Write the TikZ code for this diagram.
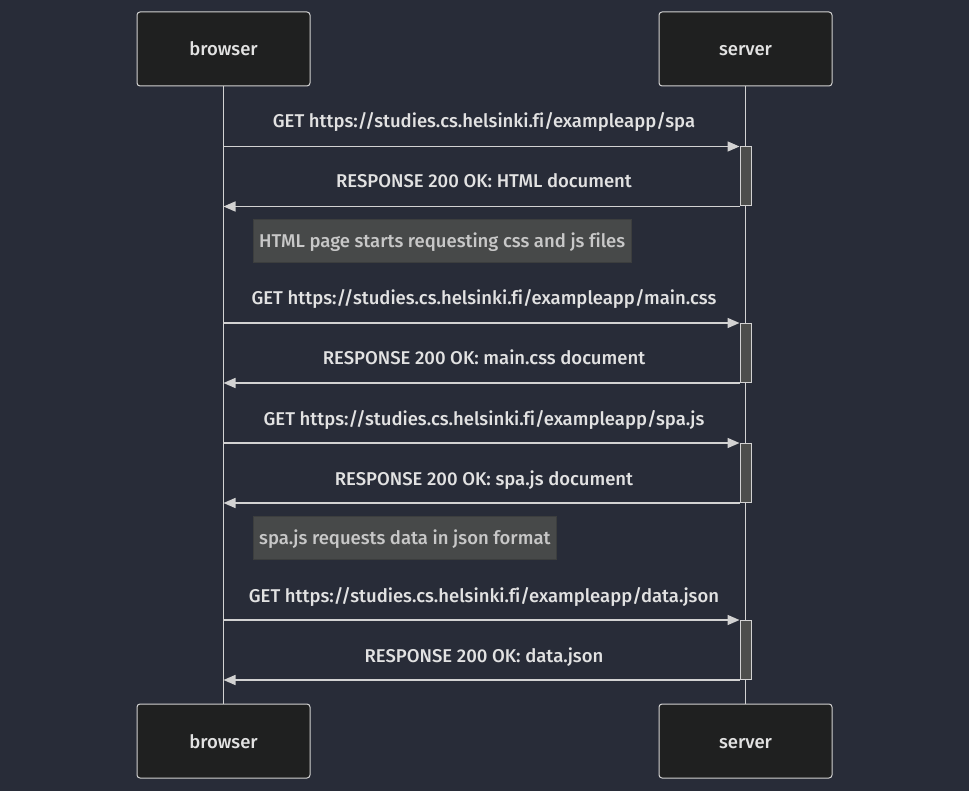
\documentclass[tikz,border=0pt]{standalone}
\usepackage{fontspec}
\setmainfont{Fira Sans}[UprightFont={* Medium},Ligatures=CommonOff]
\usetikzlibrary{arrows.meta}
\definecolor{bgcol}{RGB}{40,44,56}
\definecolor{actorfill}{RGB}{31,32,32}
\definecolor{linecol}{RGB}{210,210,210}
\definecolor{notefill}{RGB}{71,73,73}
\definecolor{actfill}{RGB}{77,78,76}
\definecolor{txtcol}{RGB}{226,226,226}
\definecolor{notetxt}{RGB}{200,200,200}
\tikzset{
  actor/.style={draw=linecol, fill=actorfill, line width=1pt, rounded corners=3pt,
    minimum width=173pt, minimum height=74pt, text=txtcol, text height=14pt, text depth=0pt},
  lifeline/.style={draw=linecol, line width=1.5pt},
  msg/.style={draw=linecol, line width=1.5pt, -{Triangle[length=12pt,width=10pt]}},
  lbl/.style={text=txtcol, text height=14pt, text depth=0pt},
  activ/.style={draw=linecol, fill=actfill, line width=1pt, minimum width=11pt,
    minimum height=59pt, inner sep=0pt},
  notebox/.style={draw=notefill!85!black, fill=notefill, text=notetxt, anchor=west,
    minimum height=43pt, inner xsep=6pt, text height=14pt, text depth=0pt}
}
\begin{document}
\begin{tikzpicture}[x=1pt,y=-1pt,font=\fontsize{18.5}{22}\selectfont]
\fill[bgcol] (0,0) rectangle (969,791);
\useasboundingbox (0,0) rectangle (969,791);

% actors
\node[actor] (browserTop) at (223.5,49) {browser};
\node[actor] (serverTop) at (745.5,49) {server};
\node[actor] (browserBot) at (223.5,741) {browser};
\node[actor] (serverBot) at (745.5,741) {server};
\draw[lifeline] (browserTop) -- (browserBot);
\draw[lifeline] (serverTop) -- (serverBot);

% activations
\node[activ] (act1) at (745.5,176.5) {};
\node[activ] (act2) at (745.5,353) {};
\node[activ] (act3) at (745.5,473) {};
\node[activ] (act4) at (745.5,650) {};

% html page
\node[lbl] (m1) at (484,121) {GET https://studies.cs.helsinki.fi/exampleapp/spa};
\draw[msg] (browserTop |- act1.north west) -- (act1.north west);
\node[lbl] (m2) at (484,181) {RESPONSE 200 OK: HTML document};
\draw[msg] (act1.south west) -- (browserTop |- act1.south west);

\node[notebox] (note1) at (253,240.5) {HTML page starts requesting css and js files};

% css
\node[lbl] (m3) at (484,298) {GET https://studies.cs.helsinki.fi/exampleapp/main.css};
\draw[msg] (browserTop |- act2.north west) -- (act2.north west);
\node[lbl] (m4) at (484,358) {RESPONSE 200 OK: main.css document};
\draw[msg] (act2.south west) -- (browserTop |- act2.south west);

% js
\node[lbl] (m5) at (484,418) {GET https://studies.cs.helsinki.fi/exampleapp/spa.js};
\draw[msg] (browserTop |- act3.north west) -- (act3.north west);
\node[lbl] (m6) at (484,478) {RESPONSE 200 OK: spa.js document};
\draw[msg] (act3.south west) -- (browserTop |- act3.south west);

\node[notebox] (note2) at (253,537.5) {spa.js requests data in json format};

% json
\node[lbl] (m7) at (484,595) {GET https://studies.cs.helsinki.fi/exampleapp/data.json};
\draw[msg] (browserTop |- act4.north west) -- (act4.north west);
\node[lbl] (m8) at (484,655) {RESPONSE 200 OK: data.json};
\draw[msg] (act4.south west) -- (browserTop |- act4.south west);
\end{tikzpicture}
\end{document}
